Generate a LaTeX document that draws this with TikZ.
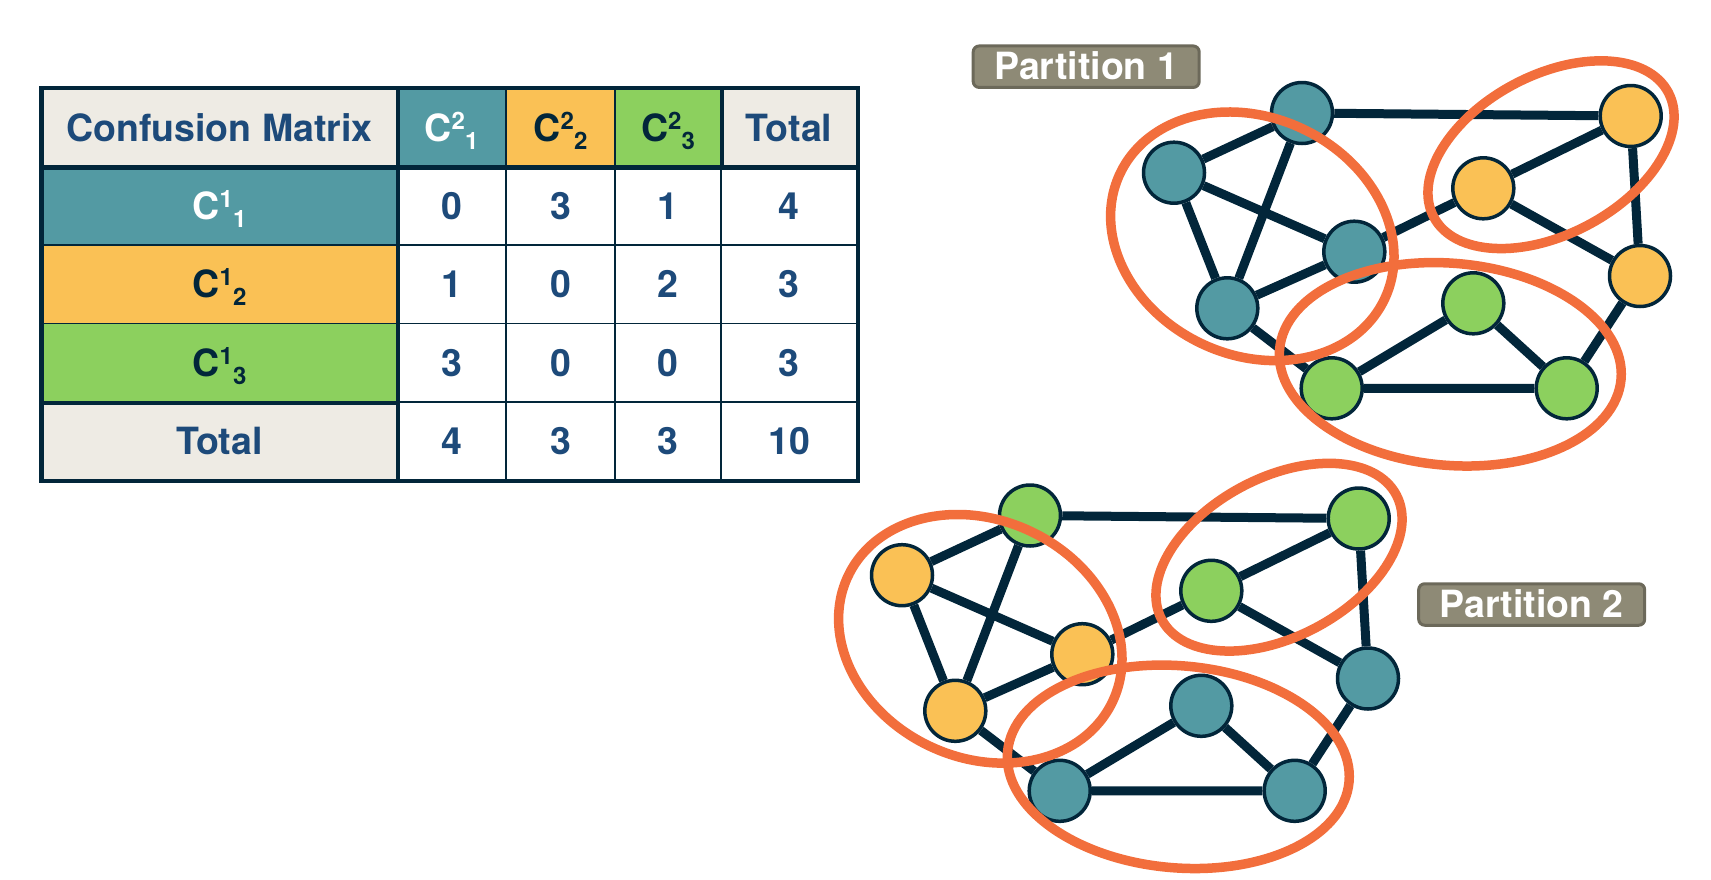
\documentclass[tikz,border=0pt]{standalone}
\usepackage{fontspec}
\setmainfont{TeX Gyre Heros}
\usetikzlibrary{shapes.geometric,backgrounds}
\definecolor{tealc}{HTML}{539AA3}
\definecolor{yellowc}{HTML}{FAC155}
\definecolor{greenc}{HTML}{8CD05E}
\definecolor{orangec}{HTML}{F26E3C}
\definecolor{darkc}{HTML}{02263A}
\definecolor{navyc}{HTML}{1D4A7A}
\definecolor{beigec}{HTML}{EEEBE4}
\definecolor{pfill}{HTML}{8E8A76}
\definecolor{pborder}{HTML}{6C695A}
\newcommand\cidx[2]{C\smash{\raisebox{11.7pt}{\fontsize{24}{24}\selectfont #1}\raisebox{-8.3pt}{\fontsize{24}{24}\selectfont #2}}}
\begin{document}
\begin{tikzpicture}[x=1pt,y=-1pt,
  cell/.style={draw=darkc, line width=1.5pt, inner sep=0pt, text height=26.9pt, text depth=0pt,
    font=\fontsize{37.5}{40}\selectfont\bfseries, text=navyc, fill=white},
  k0/.style={minimum width=355}, k1/.style={minimum width=109}, k2/.style={minimum width=109},
  k3/.style={minimum width=106}, k4/.style={minimum width=136},
  r0/.style={minimum height=78}, r1/.style={minimum height=78.3}, r2/.style={minimum height=78.3},
  r3/.style={minimum height=78.7}, r4/.style={minimum height=78.3},
  thickl/.style={draw=darkc, line width=4.5pt},
  plabel/.style={draw=pborder, fill=pfill, line width=3pt, rounded corners=6pt,
    minimum width=226, minimum height=41.5, inner sep=0pt, text=white,
    text height=26.5pt, text depth=0pt, font=\fontsize{37.5}{38}\selectfont\bfseries},
  vtx/.style={circle, draw=darkc, line width=3.5pt, minimum size=61, inner sep=0pt},
  vt/.style={vtx, fill=tealc}, vy/.style={vtx, fill=yellowc}, vg/.style={vtx, fill=greenc},
  edge/.style={draw=darkc, line width=9pt},
  part/.style={ellipse, draw=orangec, line width=9.5pt, inner sep=0pt}
]
\useasboundingbox (0,0) rectangle (1711,879);

% ---------- table ----------
\node[cell,k0,r0,fill=beigec] (t00) at (219.5,127.7) {Confusion Matrix};
\node[cell,k1,r0,fill=tealc,text=white] (t01) at (451.5,127.7) {\cidx{2}{1}};
\node[cell,k2,r0,fill=yellowc,text=darkc] (t02) at (560.5,127.7) {\cidx{2}{2}};
\node[cell,k3,r0,fill=greenc,text=darkc] (t03) at (668,127.7) {\cidx{2}{3}};
\node[cell,k4,r0,fill=beigec] (t04) at (789,127.7) {Total};

\node[cell,k0,r1,fill=tealc,text=white] (t10) at (219.5,205.85) {\cidx{1}{1}};
\node[cell,k1,r1] (t11) at (451.5,205.85) {0};
\node[cell,k2,r1] (t12) at (560.5,205.85) {3};
\node[cell,k3,r1] (t13) at (668,205.85) {1};
\node[cell,k4,r1] (t14) at (789,205.85) {4};

\node[cell,k0,r2,fill=yellowc,text=darkc] (t20) at (219.5,284.15) {\cidx{1}{2}};
\node[cell,k1,r2] (t21) at (451.5,284.15) {1};
\node[cell,k2,r2] (t22) at (560.5,284.15) {0};
\node[cell,k3,r2] (t23) at (668,284.15) {2};
\node[cell,k4,r2] (t24) at (789,284.15) {3};

\node[cell,k0,r3,fill=greenc,text=darkc] (t30) at (219.5,362.65) {\cidx{1}{3}};
\node[cell,k1,r3] (t31) at (451.5,362.65) {3};
\node[cell,k2,r3] (t32) at (560.5,362.65) {0};
\node[cell,k3,r3] (t33) at (668,362.65) {0};
\node[cell,k4,r3] (t34) at (789,362.65) {3};

\node[cell,k0,r4,fill=beigec] (t40) at (219.5,441.15) {Total};
\node[cell,k1,r4] (t41) at (451.5,441.15) {4};
\node[cell,k2,r4] (t42) at (560.5,441.15) {3};
\node[cell,k3,r4] (t43) at (668,441.15) {3};
\node[cell,k4,r4] (t44) at (789,441.15) {10};

\draw[thickl] (t00.north east) -- (t40.south east);
\draw[thickl] (t00.south west) -- (t04.south east);
\draw[thickl] (t30.south west) -- (t30.south east);
\draw[thickl] (t03.north east) -- (t03.south east);
\draw[thickl] (t00.north west) rectangle (t44.south east);

% ---------- labels ----------
\node[plabel] (p1) at (1086.2,66.7) {Partition 1};
\node[plabel] (p2) at (1531.7,604.5) {Partition 2};

% ---------- graph 1 ----------
\node[vt] (a1) at (1302,113) {};
\node[vt] (b1) at (1174,172.7) {};
\node[vt] (c1) at (1354.3,251.7) {};
\node[vt] (d1) at (1227.3,308.3) {};
\node[vy] (e1) at (1630.7,116) {};
\node[vy] (f1) at (1483.3,188.3) {};
\node[vy] (g1) at (1640,276) {};
\node[vg] (h1) at (1473.3,303.3) {};
\node[vg] (i1) at (1331.7,388.3) {};
\node[vg] (j1) at (1566.7,388.3) {};
\begin{scope}[on background layer]
\draw[edge] (a1) -- (b1) (a1) -- (e1) (a1) -- (d1) (b1) -- (c1) (b1) -- (d1)
  (d1) -- (c1) (c1) -- (f1) (f1) -- (e1) (f1) -- (g1) (e1) -- (g1)
  (d1) -- (i1) (i1) -- (h1) (h1) -- (j1) (i1) -- (j1) (j1) -- (g1);
\end{scope}
\node[part, minimum width=292.8, minimum height=237.4, rotate=-25.5] (L1) at (1252.3,236.3) {};
\node[part, minimum width=265.6, minimum height=159, rotate=28] (R1) at (1551,154.7) {};
\node[part, minimum width=342.8, minimum height=202, rotate=-5] (B1) at (1450.3,364.3) {};

% ---------- graph 2 ----------
\begin{scope}[shift={(-272,402.5)}]
\node[vg] (a2) at (1302,113) {};
\node[vy] (b2) at (1174,172.7) {};
\node[vy] (c2) at (1354.3,251.7) {};
\node[vy] (d2) at (1227.3,308.3) {};
\node[vg] (e2) at (1630.7,116) {};
\node[vg] (f2) at (1483.3,188.3) {};
\node[vt] (g2) at (1640,276) {};
\node[vt] (h2) at (1473.3,303.3) {};
\node[vt] (i2) at (1331.7,388.3) {};
\node[vt] (j2) at (1566.7,388.3) {};
\begin{scope}[on background layer]
\draw[edge] (a2) -- (b2) (a2) -- (e2) (a2) -- (d2) (b2) -- (c2) (b2) -- (d2)
  (d2) -- (c2) (c2) -- (f2) (f2) -- (e2) (f2) -- (g2) (e2) -- (g2)
  (d2) -- (i2) (i2) -- (h2) (h2) -- (j2) (i2) -- (j2) (j2) -- (g2);
\end{scope}
\node[part, minimum width=292.8, minimum height=237.4, rotate=-25.5] (L2) at (1252.3,236.3) {};
\node[part, minimum width=265.6, minimum height=159, rotate=28] (R2) at (1551,154.7) {};
\node[part, minimum width=342.8, minimum height=202, rotate=-5] (B2) at (1450.3,364.3) {};
\end{scope}
\end{tikzpicture}
\end{document}
